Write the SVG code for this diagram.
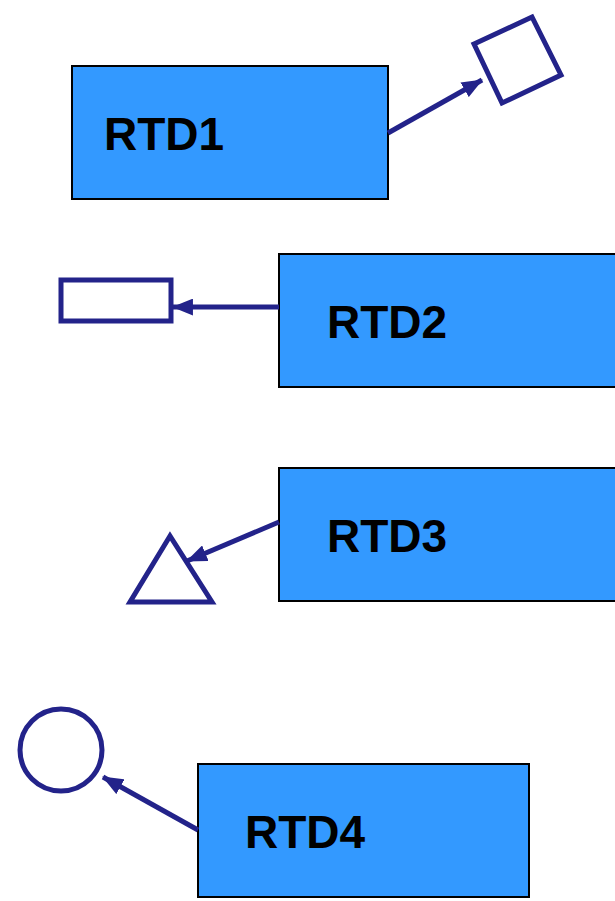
<svg xmlns="http://www.w3.org/2000/svg" width="615" height="901" viewBox="0 0 615 901">
  <style>
    .box { fill: #3399FF; stroke: #000; stroke-width: 2; }
    .label { font-family: "Liberation Sans", Arial, sans-serif; font-weight: bold; font-size: 46px; fill: #000; }
    .shape { fill: none; stroke: #23238A; stroke-width: 5; }
    .link { stroke: #23238A; stroke-width: 5; fill: none; marker-end: url(#head); }
  </style>
  <defs>
    <marker id="head" viewBox="0 0 20 16" refX="19" refY="8" markerWidth="21" markerHeight="17" markerUnits="userSpaceOnUse" orient="auto">
      <path d="M0,0 L20,8 L0,16 Z" fill="#23238A"/>
    </marker>
  </defs>

  <g id="rtd1">
    <rect class="box" x="72" y="66" width="316" height="133"/>
    <text class="label" x="104" y="150">RTD1</text>
  </g>
  <g id="rtd2">
    <rect class="box" x="279" y="254" width="340" height="133"/>
    <text class="label" x="327" y="338">RTD2</text>
  </g>
  <g id="rtd3">
    <rect class="box" x="279" y="468" width="340" height="133"/>
    <text class="label" x="327" y="552">RTD3</text>
  </g>
  <g id="rtd4">
    <rect class="box" x="198" y="764" width="331" height="133"/>
    <text class="label" x="245" y="848">RTD4</text>
  </g>

  <g id="square">
    <polygon class="shape" points="474,44 532,17 561,75 502,103"/>
  </g>
  <g id="small-rect">
    <rect class="shape" x="61" y="280" width="110" height="41"/>
  </g>
  <g id="triangle">
    <polygon class="shape" points="170,536 130,602 212,602"/>
  </g>
  <g id="circle">
    <circle class="shape" cx="61" cy="750" r="41"/>
  </g>

  <g id="connectors">
    <line class="link" x1="388" y1="133" x2="482" y2="80"/>
    <line class="link" x1="279" y1="307" x2="173" y2="307"/>
    <line class="link" x1="279" y1="522" x2="187" y2="561"/>
    <line class="link" x1="198" y1="830" x2="103" y2="777"/>
  </g>
</svg>
